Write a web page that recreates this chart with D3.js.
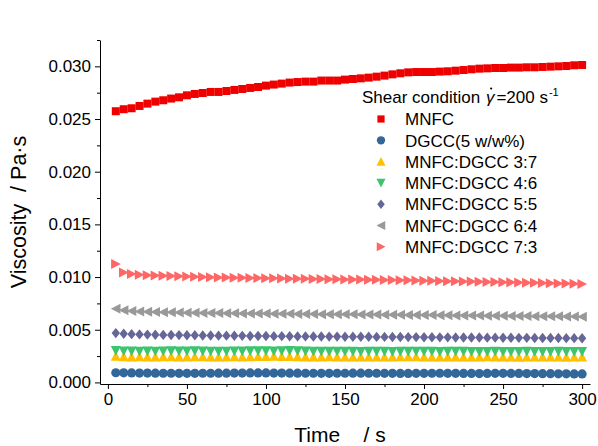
<!DOCTYPE html>
<html>
<head>
<meta charset="utf-8">
<script src="https://cdn.jsdelivr.net/npm/d3@7"></script>
<style>
  html, body { margin: 0; padding: 0; background: #fff; }
  svg { display: block; font-family: "Liberation Sans", Arial, sans-serif; }
</style>
</head>
<body>
<svg id="chart" width="598" height="446"></svg>
<script>
// ---------------- DATA ----------------
const time = [5,10,15,20,25,30,35,40,45,50,55,60,65,70,75,80,85,90,95,100,
  105,110,115,120,125,130,135,140,145,150,155,160,165,170,175,180,185,190,195,200,
  205,210,215,220,225,230,235,240,245,250,255,260,265,270,275,280,285,290,295,300];

const mnfc = [0.02574,0.02593,0.02602,0.02624,0.02646,0.02665,0.02678,0.02694,0.02706,0.02725,
  0.02738,0.02747,0.02757,0.02757,0.02766,0.02776,0.02785,0.02795,0.02804,0.02817,
  0.02827,0.02836,0.02846,0.02851,0.02855,0.02855,0.02865,0.02865,0.02865,0.02874,
  0.02880,0.02886,0.02893,0.02902,0.02912,0.02924,0.02934,0.02943,0.02946,0.02946,
  0.02946,0.02950,0.02953,0.02959,0.02965,0.02972,0.02978,0.02981,0.02984,0.02984,
  0.02988,0.02988,0.02991,0.02991,0.02994,0.02997,0.03000,0.03003,0.03010,0.03013];

const dgcc = [0.00092,0.00091,0.00090,0.00089,0.00089,0.00088,0.00087,0.00087,0.00086,0.00086,
  0.00086,0.00087,0.00087,0.00088,0.00088,0.00089,0.00089,0.00090,0.00090,0.00090,
  0.00089,0.00089,0.00088,0.00088,0.00087,0.00087,0.00086,0.00086,0.00087,0.00087,
  0.00088,0.00088,0.00087,0.00087,0.00086,0.00086,0.00085,0.00085,0.00086,0.00086,
  0.00087,0.00087,0.00086,0.00086,0.00085,0.00085,0.00084,0.00085,0.00086,0.00086,
  0.00085,0.00085,0.00084,0.00084,0.00083,0.00083,0.00082,0.00082,0.00081,0.00081];

const mix37 = [0.00250,0.00246,0.00244,0.00245,0.00243,0.00244,0.00246,0.00245,0.00243,0.00244,
  0.00246,0.00245,0.00243,0.00242,0.00244,0.00245,0.00244,0.00245,0.00247,0.00249,
  0.00250,0.00249,0.00247,0.00245,0.00244,0.00243,0.00244,0.00245,0.00244,0.00242,
  0.00243,0.00244,0.00243,0.00242,0.00243,0.00244,0.00245,0.00246,0.00245,0.00243,
  0.00242,0.00243,0.00244,0.00243,0.00242,0.00243,0.00244,0.00245,0.00244,0.00243,
  0.00242,0.00241,0.00242,0.00243,0.00244,0.00243,0.00242,0.00241,0.00242,0.00243];

const mix46 = [0.00300,0.00297,0.00296,0.00295,0.00296,0.00295,0.00297,0.00298,0.00297,0.00296,
  0.00298,0.00297,0.00295,0.00294,0.00295,0.00296,0.00297,0.00298,0.00299,0.00298,
  0.00297,0.00299,0.00300,0.00298,0.00296,0.00294,0.00293,0.00294,0.00295,0.00294,
  0.00293,0.00292,0.00293,0.00294,0.00293,0.00292,0.00293,0.00294,0.00295,0.00294,
  0.00293,0.00292,0.00293,0.00294,0.00293,0.00292,0.00291,0.00292,0.00293,0.00292,
  0.00291,0.00292,0.00293,0.00292,0.00291,0.00292,0.00293,0.00292,0.00291,0.00292];

const mix55 = [0.00468,0.00462,0.00458,0.00456,0.00454,0.00452,0.00451,0.00450,0.00449,0.00448,
  0.00447,0.00446,0.00445,0.00444,0.00444,0.00443,0.00442,0.00441,0.00441,0.00440,
  0.00439,0.00439,0.00438,0.00437,0.00437,0.00436,0.00436,0.00435,0.00435,0.00434,
  0.00434,0.00433,0.00433,0.00432,0.00432,0.00431,0.00431,0.00430,0.00430,0.00429,
  0.00429,0.00428,0.00428,0.00427,0.00427,0.00426,0.00426,0.00425,0.00425,0.00424,
  0.00424,0.00423,0.00423,0.00422,0.00422,0.00421,0.00421,0.00420,0.00420,0.00419];

const mix64 = [0.00700,0.00685,0.00678,0.00674,0.00671,0.00669,0.00667,0.00665,0.00664,0.00662,
  0.00661,0.00660,0.00659,0.00658,0.00657,0.00656,0.00655,0.00655,0.00654,0.00653,
  0.00652,0.00652,0.00651,0.00650,0.00650,0.00649,0.00648,0.00648,0.00647,0.00647,
  0.00646,0.00645,0.00645,0.00644,0.00643,0.00642,0.00642,0.00641,0.00640,0.00639,
  0.00639,0.00638,0.00637,0.00636,0.00636,0.00635,0.00634,0.00633,0.00633,0.00632,
  0.00631,0.00630,0.00630,0.00629,0.00628,0.00627,0.00627,0.00626,0.00625,0.00624];

const mix73 = [0.01124,0.01044,0.01029,0.01022,0.01018,0.01015,0.01013,0.01010,0.01008,0.01006,
  0.01004,0.01001,0.00999,0.00997,0.00996,0.00994,0.00993,0.00991,0.00990,0.00988,
  0.00988,0.00986,0.00985,0.00984,0.00983,0.00982,0.00981,0.00980,0.00979,0.00978,
  0.00977,0.00976,0.00975,0.00974,0.00972,0.00971,0.00970,0.00969,0.00967,0.00966,
  0.00964,0.00963,0.00961,0.00960,0.00958,0.00957,0.00955,0.00954,0.00953,0.00951,
  0.00950,0.00948,0.00947,0.00945,0.00944,0.00942,0.00940,0.00938,0.00936,0.00934];

const seriesNames = ["MNFC", "DGCC(5 w/w%)", "MNFC:DGCC 3:7", "MNFC:DGCC 4:6",
  "MNFC:DGCC 5:5", "MNFC:DGCC 6:4", "MNFC:DGCC 7:3"];
const seriesValues = [mnfc, dgcc, mix37, mix46, mix55, mix64, mix73];
const seriesColors = ["#ee0000", "#336699", "#ffc000", "#3dc46e", "#666699", "#999999", "#ff6666"];
const seriesShapes = ["square", "circle", "up", "down", "diamond", "left", "right"];

const xTicks = [0, 50, 100, 150, 200, 250, 300];
const xMinorTicks = [25, 75, 125, 175, 225, 275];
const yTicks = [0, 0.005, 0.010, 0.015, 0.020, 0.025, 0.030];
const yMinorTicks = [0.0025, 0.0075, 0.0125, 0.0175, 0.0225, 0.0275, 0.0325];

// ---------------- CHART ----------------
const svg = d3.select("#chart");
const x = d3.scaleLinear().domain([-5, 305]).range([100, 590]);
const y = d3.scaleLinear().domain([-0.00015, 0.0325]).range([384, 40]);

function shapePath(kind) {
  switch (kind) {
    case "square": return "M-4,-4H4V4H-4Z";
    case "circle": return "M4.6,0A4.6,4.6 0 1,1 -4.6,0A4.6,4.6 0 1,1 4.6,0Z";
    case "up": return "M0,-5L5,4.7L-5,4.7Z";
    case "down": return "M0,5L5,-4.7L-5,-4.7Z";
    case "diamond": return "M0,-5.2L4.2,0L0,5.2L-4.2,0Z";
    case "left": return "M-5,0L4.7,-5L4.7,5Z";
    case "right": return "M5,0L-4.7,-5L-4.7,5Z";
  }
}

// points
seriesValues.forEach((vals, i) => {
  svg.append("g")
    .selectAll("path")
    .data(vals.map((v, j) => ({ t: time[j], v })))
    .join("path")
    .attr("d", shapePath(seriesShapes[i]))
    .attr("transform", d => `translate(${x(d.t)},${y(d.v)})`)
    .attr("fill", seriesColors[i]);
});

// axes
const fontSize = 17;
svg.append("g").attr("transform", "translate(100,0)")
  .call(d3.axisLeft(y).tickValues(yTicks).tickSize(5).tickSizeOuter(0).tickPadding(4)
    .tickFormat(d3.format(".3f")));
svg.append("g").attr("transform", "translate(100,0)")
  .call(d3.axisLeft(y).tickValues(yMinorTicks).tickSize(3).tickFormat(""))
  .select(".domain").remove();
svg.append("g").attr("transform", "translate(0,384)")
  .call(d3.axisBottom(x).tickValues(xTicks).tickSize(5).tickSizeOuter(0).tickPadding(4));
svg.append("g").attr("transform", "translate(0,384)")
  .call(d3.axisBottom(x).tickValues(xMinorTicks).tickSize(3).tickFormat(""))
  .select(".domain").remove();

svg.selectAll(".tick text").attr("font-size", fontSize)
  .attr("font-family", "'Liberation Sans', Arial, sans-serif").attr("fill", "#000");
svg.selectAll(".tick line").attr("stroke", "#000");
svg.selectAll(".domain").attr("stroke", "#000");

// axis titles
svg.append("text")
  .attr("x", 340).attr("y", 442)
  .attr("text-anchor", "middle")
  .attr("font-size", 21)
  .style("white-space", "pre")
  .text("Time    / s");

svg.append("text")
  .attr("transform", "translate(26,212) rotate(-90)")
  .attr("text-anchor", "middle")
  .attr("font-size", 21.5)
  .style("white-space", "pre")
  .text("Viscosity  / Pa·s");

// legend title with gamma-dot and superscript
const lg = svg.append("g");
const titleBase = 103;
const t1 = lg.append("text").attr("x", 362).attr("y", titleBase)
  .attr("font-size", fontSize).style("white-space", "pre").text("Shear condition ");
let cx = 362 + t1.node().getComputedTextLength() + 1;
const tg = lg.append("text").attr("x", cx).attr("y", titleBase)
  .attr("font-size", fontSize).attr("font-style", "italic").text("γ");
const gw = tg.node().getComputedTextLength();
lg.append("circle").attr("cx", cx + gw * 0.62).attr("cy", titleBase - 14.5).attr("r", 1.1).attr("fill", "#000");
cx += gw + 2;
const t3 = lg.append("text").attr("x", cx).attr("y", titleBase)
  .attr("font-size", fontSize).text("=200 s");
cx += t3.node().getComputedTextLength() + 1;
lg.append("text").attr("x", cx).attr("y", titleBase - 7)
  .attr("font-size", 11).text("-1");

// legend entries
const rowY0 = 119, rowStep = 21.3;
seriesNames.forEach((name, i) => {
  const cy = rowY0 + i * rowStep;
  lg.append("path").attr("d", shapePath(seriesShapes[i]))
    .attr("transform", `translate(381,${cy}) scale(0.9)`).attr("fill", seriesColors[i]);
  lg.append("text").attr("x", 405).attr("y", cy + 6.2)
    .attr("font-size", fontSize).text(name);
});
</script>
</body>
</html>
